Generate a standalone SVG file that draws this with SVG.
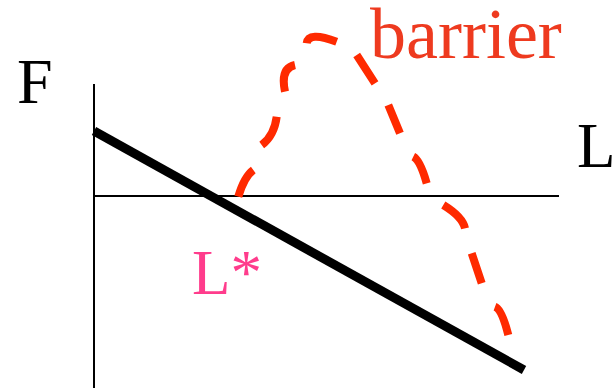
<svg xmlns="http://www.w3.org/2000/svg" width="613" height="388" viewBox="0 0 613 388">
<style>
.axis{stroke:#000;stroke-width:2;fill:none}
.lbl{font-family:"Liberation Serif","Times New Roman",serif}
</style>
<rect width="613" height="388" fill="#fff"/>
<g id="axes">
<line class="axis" x1="94" y1="84" x2="94" y2="388"/>
<line class="axis" x1="93" y1="196" x2="559" y2="196"/>
</g>
<g id="free-energy-line">
<line x1="94" y1="131" x2="524" y2="370" stroke="#000" stroke-width="9"/>
</g>
<g id="barrier-curve">
<path fill="none" stroke="#ff2a00" stroke-width="8" d="M238.3,196.7 Q244.2,176.7 253.3,170 M261.7,145 Q274.2,135.8 276.7,116.7 M285,91.7 Q280,68.3 295,65 M306.7,43.3 Q308.3,30.9 336.7,41.7 M356.7,55 L375,83.3 M388.3,105 L400,133.3 M413.3,156.7 Q420,160 426.7,183.3 M443.3,205 Q462.5,216.8 465,228.3 M471.7,253.3 L481.7,283.3 M495,306.7 Q501.8,309.2 508.3,335"/>
</g>
<g id="labels">
<text class="lbl" x="17" y="103" font-size="64" fill="#000">F</text>
<text class="lbl" x="577" y="167" font-size="63" fill="#000">L</text>
<text class="lbl" x="370" y="58" font-size="72" fill="#ee3a1f">barrier</text>
<text class="lbl" x="192" y="294" font-size="63" fill="#ff3c8c">L*</text>
</g>
</svg>
